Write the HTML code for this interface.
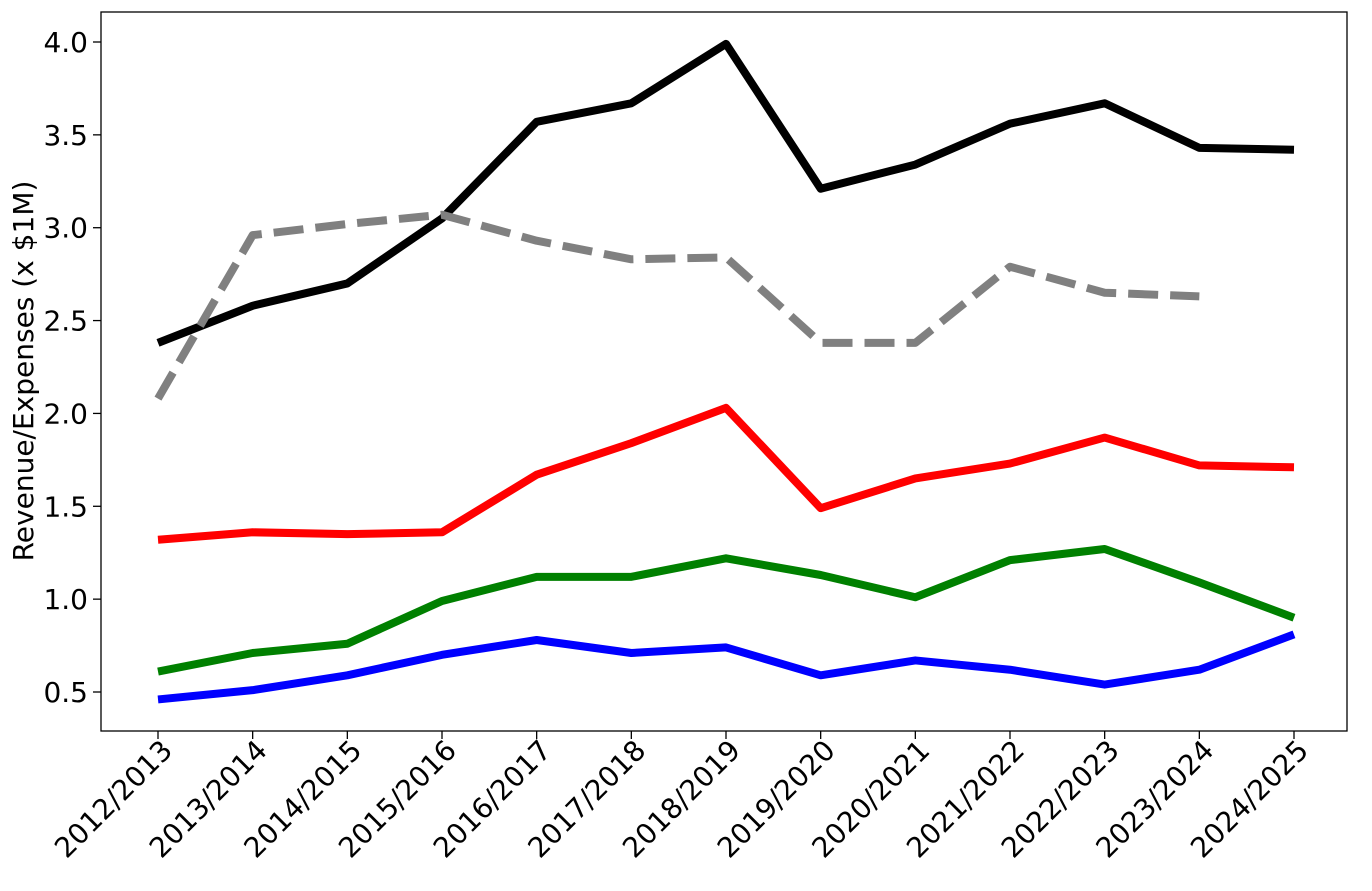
<!DOCTYPE html>
<html><head><meta charset="utf-8"><style>
html,body{margin:0;padding:0;background:#fff}
svg{display:block;font-family:"DejaVu Sans","Liberation Sans",sans-serif}
</style></head><body>
<svg id="chart" width="1372" height="891" viewBox="0 0 1372 891" xmlns="http://www.w3.org/2000/svg">
<rect x="101" y="12" width="1246" height="719" fill="#fff" stroke="#000" stroke-width="1.3"/>
<g id="ticks"></g>
<g id="series"></g>
<text transform="translate(33,371) rotate(-90)" text-anchor="middle" font-size="28">Revenue/Expenses (x $1M)</text>
</svg>
<script>
const categories=["2012/2013","2013/2014","2014/2015","2015/2016","2016/2017","2017/2018","2018/2019","2019/2020","2020/2021","2021/2022","2022/2023","2023/2024","2024/2025"];
const yTicks=[0.5,1.0,1.5,2.0,2.5,3.0,3.5,4.0];
const blackSeries=[2.38,2.58,2.70,3.05,3.57,3.67,3.99,3.21,3.34,3.56,3.67,3.43,3.42];
const graySeries=[2.08,2.96,3.02,3.07,2.93,2.83,2.84,2.38,2.38,2.79,2.65,2.63];
const redSeries=[1.32,1.36,1.35,1.36,1.67,1.84,2.03,1.49,1.65,1.73,1.87,1.72,1.71];
const greenSeries=[0.61,0.71,0.76,0.99,1.12,1.12,1.22,1.13,1.01,1.21,1.27,1.09,0.90];
const blueSeries=[0.46,0.51,0.59,0.70,0.78,0.71,0.74,0.59,0.67,0.62,0.54,0.62,0.81];
const NS="http://www.w3.org/2000/svg";
function xs(i){return 158+i*(1294-158)/(categories.length-1);}
function ys(v){return 692-(v-0.5)*(692-42)/3.5;}
const tg=document.getElementById('ticks');
yTicks.forEach(v=>{
 const l=document.createElementNS(NS,'line');
 
 
 l.setAttribute('x1',93);l.setAttribute('x2',101);l.setAttribute('y1',ys(v));l.setAttribute('y2',ys(v));l.setAttribute('stroke','#000');l.setAttribute('stroke-width',1.3);
 tg.appendChild(l);
 const t=document.createElementNS(NS,'text');
 
 
 t.setAttribute('x',88);t.setAttribute('y',ys(v)+10);t.setAttribute('text-anchor','end');t.setAttribute('font-size','28');
 t.textContent=v.toFixed(1);tg.appendChild(t);
});
categories.forEach((c,i)=>{
 const l=document.createElementNS(NS,'line');
 
 
 l.setAttribute('x1',xs(i));l.setAttribute('x2',xs(i));l.setAttribute('y1',731);l.setAttribute('y2',739);l.setAttribute('stroke','#000');l.setAttribute('stroke-width',1.3);
 tg.appendChild(l);
 const t=document.createElementNS(NS,'text');
 
 
 t.setAttribute('text-anchor','end');t.setAttribute('font-size','28');
 t.setAttribute('transform','translate('+(xs(i)+16)+',752) rotate(-45)');
 t.textContent=c;tg.appendChild(t);
});
const sg=document.getElementById('series');
function line(data,color,name,dash){
 const p=document.createElementNS(NS,'polyline');
 
 
 p.setAttribute('points',data.map((v,i)=>xs(i)+','+ys(v)).join(' '));
 p.setAttribute('fill','none');p.setAttribute('stroke',color);p.setAttribute('stroke-width',8);
 p.setAttribute('stroke-linejoin','round');
 if(dash)p.setAttribute('stroke-dasharray',dash);
 sg.appendChild(p);
}
line(blackSeries,'#000','black-series-line');
line(graySeries,'#808080','gray-dashed-series-line','30,12');
line(redSeries,'#ff0000','red-series-line');
line(greenSeries,'#008000','green-series-line');
line(blueSeries,'#0000ff','blue-series-line');
</script>
</body></html>
